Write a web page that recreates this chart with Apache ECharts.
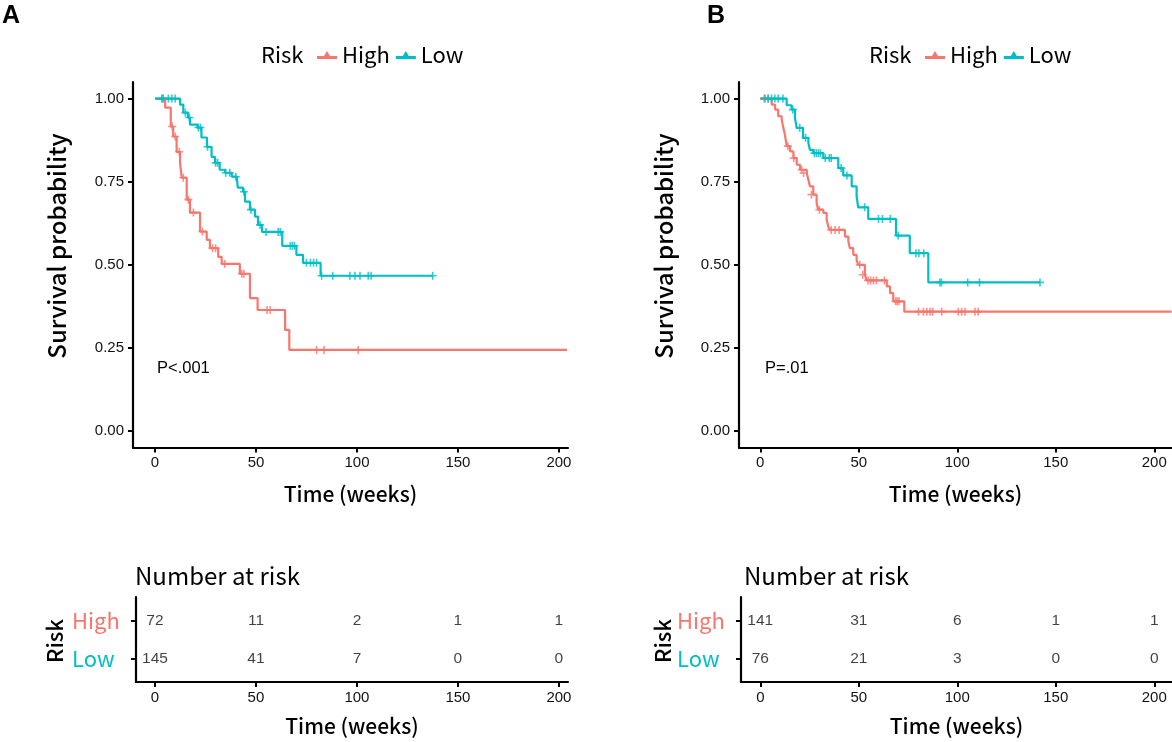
<!DOCTYPE html>
<html>
<head>
<meta charset="utf-8">
<script src="https://cdn.jsdelivr.net/npm/echarts@6.0.0/dist/echarts.min.js"></script>
<style>
html,body{margin:0;padding:0;background:#fff;}
#chart{width:1172px;height:742px;}
</style>
</head>
<body>
<div id="chart"></div>
<script>
// ---------- Data ----------
const timeTicks = [0, 50, 100, 150, 200];
const probTicks = [0, 0.25, 0.5, 0.75, 1];

// Panel A Kaplan-Meier steps [time, survival]
const highA = [[0,1],[5,0.973],[7.8,0.916],[9,0.886],[10.7,0.84],[12.4,0.807],[13.2,0.762],[15.7,0.696],[17.3,0.657],[22.3,0.6],[25.6,0.575],[27.2,0.55],[31.3,0.524],[33,0.503],[42,0.473],[47,0.40],[50.8,0.364],[64.4,0.304],[66.5,0.244],[204,0.244]];
const lowA = [[0,1],[12.4,0.982],[14,0.958],[16.3,0.943],[17.3,0.922],[21,0.913],[23,0.883],[25.7,0.855],[28,0.825],[29.7,0.807],[32,0.786],[34.7,0.777],[38,0.765],[40.6,0.756],[41,0.732],[43.6,0.72],[44.6,0.69],[47,0.666],[49.5,0.645],[51,0.62],[53,0.599],[63,0.557],[70,0.53],[73.3,0.506],[82,0.467],[137.5,0.467]];
const highCensA = [[4,1],[8.5,0.916],[10,0.886],[12,0.84],[14,0.762],[16.5,0.696],[19,0.657],[23.5,0.6],[28.5,0.55],[30,0.55],[34.5,0.503],[43,0.473],[44,0.473],[55.5,0.364],[57,0.364],[80,0.244],[83.7,0.244],[100.6,0.244]];
const lowCensA = [[3.3,1],[4,1],[6.6,1],[8.3,1],[10,1],[15,0.958],[17,0.943],[21.5,0.913],[22.5,0.913],[26,0.855],[30,0.807],[31,0.807],[35,0.777],[37,0.777],[40,0.765],[44,0.72],[47.5,0.666],[52,0.62],[55,0.599],[61,0.599],[62,0.599],[67,0.557],[68,0.557],[69,0.557],[75,0.506],[77,0.506],[78.5,0.506],[80,0.506],[82.5,0.467],[88,0.467],[96.5,0.467],[99,0.467],[101.5,0.467],[105.6,0.467],[107,0.467],[137.5,0.467]];

// Panel B Kaplan-Meier steps
const highB = [[0,1],[5.8,0.982],[7.5,0.967],[9.1,0.947],[10.9,0.936],[11.7,0.912],[12.5,0.892],[13.4,0.857],[15.1,0.841],[16.8,0.821],[18.5,0.801],[20.2,0.786],[23.6,0.776],[24.4,0.756],[25.2,0.736],[26.9,0.711],[28.6,0.686],[29.4,0.666],[32,0.656],[33.7,0.636],[34.5,0.615],[35.4,0.605],[43,0.585],[44.7,0.57],[45.5,0.55],[47.2,0.53],[48.9,0.515],[49.7,0.5],[53.1,0.47],[54,0.453],[64.2,0.435],[65.9,0.415],[67.5,0.39],[73.1,0.359],[208.8,0.359]];
const lowB = [[0,1],[13.4,0.98],[15.9,0.967],[17.6,0.942],[18.5,0.912],[21.7,0.882],[24.4,0.867],[25.2,0.846],[26.9,0.836],[32,0.821],[39.6,0.791],[42.1,0.769],[46.4,0.736],[48.9,0.706],[49.7,0.673],[54.8,0.638],[68.9,0.588],[75.9,0.535],[85.3,0.447],[142,0.447]];
const highCensB = [[2,1],[4,1],[14,0.857],[17,0.821],[21,0.786],[22,0.776],[26,0.711],[30,0.666],[36,0.605],[38,0.605],[40,0.605],[50.5,0.5],[52,0.47],[54.7,0.453],[56,0.453],[57.5,0.453],[59,0.453],[63,0.453],[68.7,0.39],[69.5,0.39],[70.4,0.39],[80.3,0.359],[82.8,0.359],[84.5,0.359],[86.2,0.359],[87.5,0.359],[92.1,0.359],[100.5,0.359],[102.2,0.359],[103.9,0.359],[109,0.359],[110.6,0.359]];
const lowCensB = [[2.4,1],[4,1],[5.7,1],[7.4,1],[9.1,1],[11.5,1],[16.5,0.967],[20,0.912],[23,0.882],[27.5,0.836],[28.5,0.836],[29.5,0.836],[30.5,0.836],[33,0.821],[35,0.821],[36,0.821],[41,0.791],[44,0.769],[53,0.673],[60,0.638],[62,0.638],[66,0.638],[70,0.588],[79,0.535],[80.5,0.535],[83,0.535],[91.2,0.447],[92,0.447],[105.3,0.447],[111.3,0.447],[142,0.447]];

// Numbers at risk
const riskTimes = [0, 50, 100, 150, 200];
const riskHighA = [72, 11, 2, 1, 1];
const riskLowA = [145, 41, 7, 0, 0];
const riskHighB = [141, 31, 6, 1, 1];
const riskLowB = [76, 21, 3, 0, 0];
const pTextA = 'P<.001';
const pTextB = 'P=.01';

// ---------- Styles ----------
const RED = '#F8766D', CYAN = '#00BFC4';
const TITLE_FONT = '"Noto Sans CJK SC", "Noto Sans", sans-serif';
const NUM_FONT = '"Liberation Sans", Arial, sans-serif';
const plusPath = 'path://M4,0 L6,0 L6,4 L10,4 L10,6 L6,6 L6,10 L4,10 L4,6 L0,6 L0,4 L4,4 Z';
const legendIcon = 'path://M0,7 L20,7 L20,10 L0,10 Z M7,7 L10,2 L13,7 Z';

const axisLine = {show:true, onZero:false, lineStyle:{color:'#000', width:2.2}};
const axisTick = (vals) => ({show:true, length:5, lineStyle:{color:'#000', width:2}, customValues: vals});

function plotX(idx, min, max){
  return {gridIndex: idx, type:'value', min:min, max:max,
    axisLine: axisLine, axisTick: axisTick(timeTicks), splitLine:{show:false},
    axisLabel:{customValues: timeTicks, color:'#111', fontSize:15, fontFamily:NUM_FONT, margin:8},
    name:'Time (weeks)', nameLocation:'middle', nameGap:36,
    nameTextStyle:{fontSize:21, fontFamily:TITLE_FONT, color:'#000', fontWeight:500}};
}
function plotY(idx){
  return {gridIndex: idx, type:'value', min:-0.05, max:1.05,
    axisLine: axisLine, axisTick: axisTick(probTicks), splitLine:{show:false},
    axisLabel:{customValues: probTicks, formatter: v => v.toFixed(2), color:'#111', fontSize:15, fontFamily:NUM_FONT, margin:9}};
}
function tableY(idx){
  return {gridIndex: idx, type:'value', min:0.4, max:2.63,
    axisLine: axisLine, axisTick: axisTick([1,2]), splitLine:{show:false},
    axisLabel:{customValues:[1,2], margin:12,
      formatter: v => v === 2 ? '{h|High}' : '{l|Low}',
      rich:{h:{color:RED, fontSize:22, fontFamily:TITLE_FONT, width:52, align:'left'},
            l:{color:CYAN, fontSize:22, fontFamily:TITLE_FONT, width:52, align:'left'}}}};
}
function curve(name, data, color, xi){
  return {name:name, type:'line', step:'end', xAxisIndex:xi, yAxisIndex:xi, data:data,
    showSymbol:false, symbol:'none', lineStyle:{color:color, width:2.2}, itemStyle:{color:color}, silent:true, z:3};
}
function cens(name, data, color, xi){
  return {name:name, type:'scatter', xAxisIndex:xi, yAxisIndex:xi, data:data,
    symbol:plusPath, symbolSize:8, itemStyle:{color:color}, silent:true, z:4};
}
function table(counts, row, xi){
  return {type:'scatter', xAxisIndex:xi, yAxisIndex:xi,
    data: riskTimes.map((t,i) => [t, row, counts[i]]),
    symbolSize:0, silent:true,
    label:{show:true, position:'inside', formatter: p => String(p.data[2]),
      color:'#111', fontSize:15.5, fontFamily:NUM_FONT}};
}

const option = {
  animation:false,
  backgroundColor:'#fff',
  grid:[
    {left:133, top:82, width:435, height:365.6},
    {left:136, top:597, width:432, height:85},
    {left:739, top:82, right:0, height:365.6},
    {left:741, top:597, right:0, height:85}
  ],
  xAxis:[
    plotX(0, -10.9, 204.5),
    Object.assign(plotX(1, -9.4, 204.5), {nameGap:34}),
    plotX(2, -10.8, 209),
    Object.assign(plotX(3, -9.8, 209), {nameGap:34})
  ],
  yAxis:[ plotY(0), tableY(1), plotY(2), tableY(3) ],
  legend:[
    {left:312, top:39, itemWidth:20, itemHeight:9, itemGap:6, selectedMode:false,
     textStyle:{fontSize:22, fontFamily:TITLE_FONT, color:'#000'},
     data:[{name:'High', icon:legendIcon, itemStyle:{color:RED}}, {name:'Low', icon:legendIcon, itemStyle:{color:CYAN}}]},
    {left:920, top:39, itemWidth:20, itemHeight:9, itemGap:6, selectedMode:false,
     textStyle:{fontSize:22, fontFamily:TITLE_FONT, color:'#000'},
     data:[{name:'High', icon:legendIcon, itemStyle:{color:RED}}, {name:'Low', icon:legendIcon, itemStyle:{color:CYAN}}]}
  ],
  series:[
    curve('High', highA, RED, 0), curve('Low', lowA, CYAN, 0),
    cens('High', highCensA, RED, 0), cens('Low', lowCensA, CYAN, 0),
    table(riskHighA, 2, 1), table(riskLowA, 1, 1),
    curve('High', highB, RED, 2), curve('Low', lowB, CYAN, 2),
    cens('High', highCensB, RED, 2), cens('Low', lowCensB, CYAN, 2),
    table(riskHighB, 2, 3), table(riskLowB, 1, 3)
  ],
  graphic:[
    {type:'text', left:2, top:4, style:{text:'A', fontSize:25, fontWeight:'bold', fontFamily:NUM_FONT, fill:'#000'}},
    {type:'text', left:707, top:4, style:{text:'B', fontSize:25, fontWeight:'bold', fontFamily:NUM_FONT, fill:'#000'}},
    {type:'text', x:261, y:55, style:{text:'Risk', fontSize:22, fontFamily:TITLE_FONT, fill:'#000', verticalAlign:'middle'}},
    {type:'text', x:869, y:55, style:{text:'Risk', fontSize:22, fontFamily:TITLE_FONT, fill:'#000', verticalAlign:'middle'}},
    {type:'text', x:57, y:246, rotation:Math.PI/2, style:{text:'Survival probability', fontSize:24, fontFamily:TITLE_FONT, fill:'#000', align:'center', verticalAlign:'middle', fontWeight:500}},
    {type:'text', x:664, y:246, rotation:Math.PI/2, style:{text:'Survival probability', fontSize:24, fontFamily:TITLE_FONT, fill:'#000', align:'center', verticalAlign:'middle', fontWeight:500}},
    {type:'text', x:157, y:368, style:{text:pTextA, fontSize:16.5, fontFamily:NUM_FONT, fill:'#000', verticalAlign:'middle'}},
    {type:'text', x:765, y:368, style:{text:pTextB, fontSize:16.5, fontFamily:NUM_FONT, fill:'#000', verticalAlign:'middle'}},
    {type:'text', x:135, y:576, style:{text:'Number at risk', fontSize:24, fontFamily:TITLE_FONT, fill:'#000', verticalAlign:'middle'}},
    {type:'text', x:744, y:576, style:{text:'Number at risk', fontSize:24, fontFamily:TITLE_FONT, fill:'#000', verticalAlign:'middle'}},
    {type:'text', x:55, y:641, rotation:Math.PI/2, style:{text:'Risk', fontSize:22, fontFamily:TITLE_FONT, fill:'#000', align:'center', verticalAlign:'middle', fontWeight:500}},
    {type:'text', x:663, y:641, rotation:Math.PI/2, style:{text:'Risk', fontSize:22, fontFamily:TITLE_FONT, fill:'#000', align:'center', verticalAlign:'middle', fontWeight:500}}
  ]
};
const chart = echarts.init(document.getElementById('chart'), null, {renderer:'canvas'});
chart.setOption(option);
</script>
</body>
</html>
